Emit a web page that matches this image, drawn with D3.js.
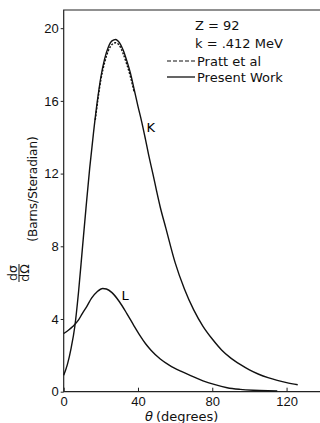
<!DOCTYPE html>
<html>
<head>
<meta charset="utf-8">
<script src="https://cdn.jsdelivr.net/npm/d3@7"></script>
<style>
  body { margin: 0; background: #fff; }
  svg { display: block; font-family: "DejaVu Sans", sans-serif; }
  .axis text { font-size: 13px; fill: #111; }
  .axis line { stroke: #222; stroke-width: 1; }
</style>
</head>
<body>
<svg id="chart" width="320" height="423"></svg>
<script>
// theta (degrees) and d sigma / d omega (barns / steradian)
var kTheta = [0, 2, 4, 6, 8, 10, 12, 14, 16, 18, 20, 22, 24, 26, 28, 30, 32, 34, 36, 38, 40, 42, 44, 46, 48, 50, 52, 55, 60, 65, 70, 75, 80, 85, 90, 95, 100, 105, 110, 115, 120, 126];
var kValue = [0.9, 1.5, 2.4, 3.6, 5.5, 7.8, 10.1, 12.3, 14.2, 15.9, 17.3, 18.3, 18.95, 19.3, 19.38, 19.2, 18.8, 18.2, 17.5, 16.6, 15.7, 14.85, 13.9, 12.9, 12.0, 11.05, 10.15, 9.0, 7.1, 5.65, 4.5, 3.6, 2.9, 2.3, 1.85, 1.5, 1.2, 0.96, 0.77, 0.62, 0.5, 0.38];

var lTheta = [0, 2.5, 5, 8, 10, 12.4, 15, 18, 21, 23, 26, 30, 34, 38, 41, 44, 47, 52, 57, 63, 69, 75, 81, 88, 95, 102, 110, 115];
var lValue = [3.2, 3.38, 3.6, 3.95, 4.3, 4.68, 5.15, 5.5, 5.68, 5.65, 5.45, 4.95, 4.3, 3.6, 3.1, 2.65, 2.28, 1.8, 1.45, 1.13, 0.86, 0.6, 0.4, 0.22, 0.13, 0.08, 0.05, 0.04];

// Pratt et al, only distinct from the K curve near the peak
var prattTheta = [17, 20, 22, 24, 26, 28, 30, 32, 34, 36, 38];
var prattValue = [14.95, 17.15, 18.1, 18.75, 19.1, 19.2, 19.05, 18.6, 18.0, 17.3, 16.45];

var xTicks = [0, 40, 80, 120];
var yTicks = [0, 4, 8, 12, 16, 20];

var svg = d3.select("#chart");
var x = d3.scaleLinear().domain([0, 138]).range([63.7, 320]);
var y = d3.scaleLinear().domain([0, 21]).range([391.7, 10]);

function pts(xs, ys) {
  return xs.map(function(t, i) { return [t, ys[i]]; });
}

// frame (left, top, bottom)
svg.append("path")
  .attr("d", "M320," + y(21) + "H" + x(0) + "V" + y(0) + "H320")
  .attr("fill", "none").attr("stroke", "#222").attr("stroke-width", 1.2);

var yAxis = svg.append("g").attr("class", "axis")
  .attr("transform", "translate(" + x(0) + ",0)")
  .call(d3.axisLeft(y).tickValues(yTicks).tickFormat(d3.format("d"))
    .tickSizeInner(3).tickSizeOuter(0).tickPadding(2));
yAxis.select(".domain").remove();

var xAxis = svg.append("g").attr("class", "axis")
  .attr("transform", "translate(0," + y(0) + ")")
  .call(d3.axisBottom(x).tickValues(xTicks).tickFormat(d3.format("d"))
    .tickSizeInner(-4).tickSizeOuter(0).tickPadding(5));
xAxis.select(".domain").remove();

var line = d3.line()
  .x(function(d) { return x(d[0]); })
  .y(function(d) { return y(d[1]); })
  .curve(d3.curveMonotoneX);

svg.append("path").datum(pts(prattTheta, prattValue))
  .attr("d", line).attr("fill", "none").attr("stroke", "#111")
  .attr("stroke-width", 1.4).attr("stroke-dasharray", "2,1.5");

svg.append("path").datum(pts(kTheta, kValue))
  .attr("d", line).attr("fill", "none").attr("stroke", "#111").attr("stroke-width", 1.4);

svg.append("path").datum(pts(lTheta, lValue))
  .attr("d", line).attr("fill", "none").attr("stroke", "#111").attr("stroke-width", 1.4);

// curve labels
svg.append("text").attr("x", 146.5).attr("y", 132).attr("font-size", 13).text("K");
svg.append("text").attr("x", 121.5).attr("y", 300).attr("font-size", 13).text("L");

// legend
var leg = svg.append("g").attr("font-size", 13).attr("fill", "#111");
leg.append("text").attr("x", 195).attr("y", 30).text("Z = 92");
leg.append("text").attr("x", 195).attr("y", 48).text("k = .412 MeV");
leg.append("line").attr("x1", 167).attr("x2", 195).attr("y1", 61).attr("y2", 61)
  .attr("stroke", "#111").attr("stroke-width", 1.2).attr("stroke-dasharray", "4,2");
leg.append("text").attr("x", 197).attr("y", 65.5).text("Pratt et al");
leg.append("line").attr("x1", 167).attr("x2", 195).attr("y1", 77).attr("y2", 77)
  .attr("stroke", "#111").attr("stroke-width", 1.3);
leg.append("text").attr("x", 197).attr("y", 82).text("Present Work");

// x label
var xl = svg.append("text").attr("x", 145).attr("y", 421).attr("font-size", 13).attr("fill", "#111");
xl.append("tspan").attr("font-style", "italic").text("θ");
xl.append("tspan").attr("dx", 3).text("(degrees)");

// y label: fraction + units, rotated
var yl = svg.append("g").attr("fill", "#111");
yl.append("text").attr("transform", "translate(37,189) rotate(-90)")
  .attr("text-anchor", "middle").attr("font-size", 12).text("(Barns/Steradian)");
var fr = yl.append("g").attr("transform", "translate(19,273) rotate(-90)");
fr.append("text").attr("text-anchor", "middle").attr("y", -2).attr("font-size", 12.5).text("dσ");
fr.append("text").attr("text-anchor", "middle").attr("y", 10).attr("font-size", 12.5).text("dΩ");
fr.append("line").attr("x1", -9).attr("x2", 9).attr("y1", 0).attr("y2", 0)
  .attr("stroke", "#111").attr("stroke-width", 1);
</script>
</body>
</html>
